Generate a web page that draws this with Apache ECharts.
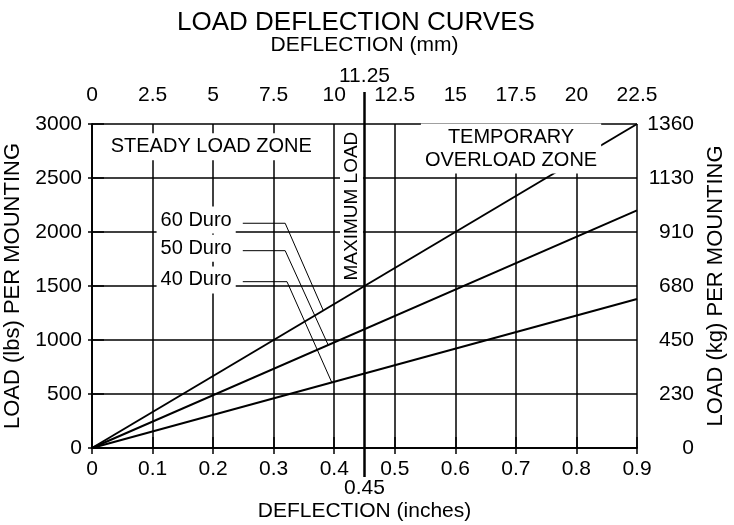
<!DOCTYPE html>
<html>
<head>
<meta charset="utf-8">
<script src="https://cdn.jsdelivr.net/npm/echarts@6/dist/echarts.min.js"></script>
<style>
  html, body { margin: 0; padding: 0; background: #fff; }
  #chart { width: 734px; height: 525px; }
</style>
</head>
<body>
<div id="chart"></div>
<script>
// load deflection curves: three rubber hardness lines, lbs vs inches

var deflectionIn = [0, 0.9];
var duro60 = [0, 3000];
var duro50 = [0, 2200];
var duro40 = [0, 1380];

// right axis (kg) labels, one per 500 lbs tick
var kgLabels = ['0', '230', '450', '680', '910', '1130', '1360'];

// maximum load marker
var maxLoadIn = 0.45;
var maxLoadMm = '11.25';
var maxLoadSpan = [3296, -268];

// leader lines from the Duro labels to their curves
var leader60 = [[0.249, 2081], [0.319, 2081], [0.382, 1273]];
var leader50 = [[0.249, 1827], [0.319, 1827], [0.390, 954]];
var leader40 = [[0.249, 1540], [0.322, 1540], [0.396, 607]];

// text notes in data coordinates
var notes = [
  { text: '60 Duro', at: [0.172, 2111] },
  { text: '50 Duro', at: [0.172, 1849] },
  { text: '40 Duro', at: [0.172, 1556] },
  { text: 'STEADY LOAD ZONE', at: [0.197, 2790] },
  { text: 'TEMPORARY\nOVERLOAD ZONE', at: [0.692, 2773] }
];
var maxNote = { text: 'MAXIMUM LOAD', at: [0.4285, 2240] };

var FONT = 'Liberation Sans, Arial, sans-serif';
var INK = '#000';

function pairs(xs, ys) {
  var out = [];
  for (var i = 0; i < xs.length; i++) out.push([xs[i], ys[i]]);
  return out;
}

function curve(name, ys) {
  return {
    name: name,
    type: 'line',
    data: pairs(deflectionIn, ys),
    symbol: 'none',
    lineStyle: { color: INK, width: 2 },
    z: 3
  };
}

function leader(pts) {
  return {
    type: 'line',
    data: pts,
    symbol: 'none',
    lineStyle: { color: INK, width: 1 },
    z: 4
  };
}

var chart = echarts.init(document.getElementById('chart'), null, { renderer: 'canvas' });

chart.setOption({
  animation: false,
  backgroundColor: '#fff',
  textStyle: { fontFamily: FONT, color: INK },
  title: {
    text: 'LOAD DEFLECTION CURVES',
    left: 172,
    top: 5,
    textStyle: { fontFamily: FONT, fontSize: 26, fontWeight: 'normal', color: INK }
  },
  grid: {
    left: 92, right: 97, top: 124, bottom: 77,
    containLabel: false,
    outerBoundsMode: 'none'
  },
  xAxis: [
    {
      type: 'value',
      position: 'bottom',
      min: 0, max: 0.9, interval: 0.1,
      name: 'DEFLECTION (inches)',
      nameLocation: 'middle',
      nameGap: 53,
      nameTextStyle: { fontFamily: FONT, fontSize: 21, color: INK },
      axisLine: { show: true, lineStyle: { color: INK, width: 1.5 } },
      axisTick: { show: true, inside: false, length: 6, lineStyle: { color: INK, width: 1.5 } },
      axisLabel: {
        fontFamily: FONT, fontSize: 21, color: INK, margin: 11,
        formatter: function (v) { return String(+v.toFixed(2)); }
      },
      splitLine: { show: true, lineStyle: { color: INK, width: 1.5 } }
    },
    {
      type: 'value',
      position: 'top',
      min: 0, max: 22.5, interval: 2.5,
      name: 'DEFLECTION (mm)',
      nameLocation: 'middle',
      nameGap: 68,
      nameTextStyle: { fontFamily: FONT, fontSize: 21, color: INK },
      axisLine: { show: true, lineStyle: { color: INK, width: 1.5 } },
      axisTick: { show: true, inside: false, length: 11, lineStyle: { color: INK, width: 1.5 } },
      axisLabel: {
        fontFamily: FONT, fontSize: 21, color: INK, margin: 18,
        formatter: function (v) { return String(v); }
      },
      splitLine: { show: false }
    }
  ],
  yAxis: [
    {
      type: 'value',
      position: 'left',
      min: 0, max: 3000, interval: 500,
      name: 'LOAD (lbs) PER MOUNTING',
      nameLocation: 'middle',
      nameRotate: 90,
      nameGap: 58,
      nameTextStyle: { fontFamily: FONT, fontSize: 22, color: INK },
      axisLine: { show: true, lineStyle: { color: INK, width: 1.5 } },
      axisTick: { show: true, inside: false, length: 4, lineStyle: { color: INK, width: 1.5 } },
      axisLabel: {
        fontFamily: FONT, fontSize: 21, color: INK, margin: 10,
        formatter: function (v) { return String(v); }
      },
      splitLine: { show: true, lineStyle: { color: INK, width: 1.5 } }
    },
    {
      type: 'value',
      position: 'right',
      min: 0, max: 3000, interval: 500,
      name: 'LOAD (kg) PER MOUNTING',
      nameLocation: 'middle',
      nameRotate: 90,
      nameGap: 65,
      nameTextStyle: { fontFamily: FONT, fontSize: 22, color: INK },
      axisLine: { show: true, lineStyle: { color: INK, width: 1.5 } },
      axisTick: { show: true, inside: false, length: 12, lineStyle: { color: INK, width: 1.5 } },
      axisLabel: {
        fontFamily: FONT, fontSize: 21, color: INK, margin: 57, align: 'right',
        formatter: function (v) { return kgLabels[Math.round(v / 500)]; }
      },
      splitLine: { show: false }
    }
  ],
  series: [
    curve('60 Duro', duro60),
    curve('50 Duro', duro50),
    curve('40 Duro', duro40),
    leader(leader60),
    leader(leader50),
    leader(leader40),
    {
      // thick maximum-load marker, runs past the plot on both ends
      type: 'line',
      clip: false,
      data: [
        { value: [maxLoadIn, maxLoadSpan[0]], label: { show: true, position: 'top', distance: 5, formatter: maxLoadMm } },
        { value: [maxLoadIn, maxLoadSpan[1]], label: { show: true, position: 'bottom', distance: 1, formatter: String(maxLoadIn) } }
      ],
      symbol: 'circle',
      symbolSize: 0,
      showSymbol: true,
      lineStyle: { color: INK, width: 2.5 },
      label: { fontFamily: FONT, fontSize: 21, color: INK },
      z: 6
    },
    {
      type: 'scatter',
      symbolSize: 0,
      itemStyle: { opacity: 1 },
      data: notes.map(function (n) { return { value: n.at, name: n.text }; }),
      label: {
        show: true,
        position: 'inside',
        formatter: '{b}',
        fontFamily: FONT,
        fontSize: 20,
        lineHeight: 23,
        color: INK,
        opacity: 1,
        backgroundColor: '#fff',
        padding: [2, 4]
      },
      z: 8
    },
    {
      type: 'scatter',
      symbolSize: 0,
      itemStyle: { opacity: 1 },
      data: [{ value: maxNote.at, name: maxNote.text }],
      label: {
        show: true,
        position: 'inside',
        rotate: 90,
        formatter: '{b}',
        fontFamily: FONT,
        fontSize: 19,
        color: INK,
        opacity: 1,
        backgroundColor: '#fff',
        padding: [2, 1]
      },
      z: 8
    }
  ]
});
</script>
</body>
</html>
